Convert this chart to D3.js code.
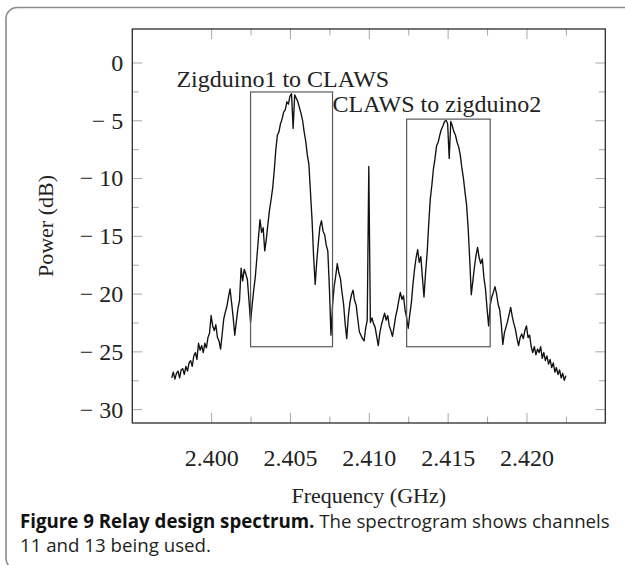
<!DOCTYPE html>
<html><head><meta charset="utf-8">
<script src="https://cdn.jsdelivr.net/npm/d3@7"></script>
<style>body{margin:0;background:#fff}svg{display:block}</style>
</head><body><svg id="chart" width="625" height="565"></svg>
<script>
// ---------------- data ----------------
const freqs = [
2.3975,2.3976,2.3977,2.3978,2.3979,2.3980,2.3981,2.3982,2.3983,2.3984,
2.3985,2.3986,2.3987,2.3988,2.3989,2.3990,2.3991,2.3992,2.3993,2.3994,
2.3995,2.3996,2.3997,2.3998,2.3999,2.4000,2.4001,2.4002,2.4003,2.4004,
2.4005,2.4006,2.4007,2.4008,2.4009,2.4010,2.4011,2.4012,2.4013,2.4014,
2.4015,2.4016,2.4017,2.4018,2.4019,2.4020,2.4021,2.4022,2.4023,2.4024,
2.4025,2.4026,2.4027,2.4028,2.4029,2.4030,2.4031,2.4032,2.4033,2.4034,
2.4035,2.4036,2.4037,2.4038,2.4039,2.4040,2.4041,2.4042,2.4043,2.4044,
2.4045,2.4046,2.4047,2.4048,2.4049,2.4050,2.4051,2.4052,2.4053,2.4054,
2.4055,2.4056,2.4057,2.4058,2.4059,2.4060,2.4061,2.4062,2.4063,2.4064,
2.4065,2.4066,2.4067,2.4068,2.4069,2.4070,2.4071,2.4072,2.4073,2.4074,
2.4075,2.4076,2.4077,2.4078,2.4079,2.4080,2.4081,2.4082,2.4083,2.4084,
2.4085,2.4086,2.4087,2.4088,2.4089,2.4090,2.4091,2.4092,2.4093,2.4094,
2.4095,2.4096,2.4097,2.4098,2.4099,2.4100,2.4101,2.4102,2.4103,2.4104,
2.4105,2.4106,2.4107,2.4108,2.4109,2.4110,2.4111,2.4112,2.4113,2.4114,
2.4115,2.4116,2.4117,2.4118,2.4119,2.4120,2.4121,2.4122,2.4123,2.4124,
2.4125,2.4126,2.4127,2.4128,2.4129,2.4130,2.4131,2.4132,2.4133,2.4134,
2.4135,2.4136,2.4137,2.4138,2.4139,2.4140,2.4141,2.4142,2.4143,2.4144,
2.4145,2.4146,2.4147,2.4148,2.4149,2.4150,2.4151,2.4152,2.4153,2.4154,
2.4155,2.4156,2.4157,2.4158,2.4159,2.4160,2.4161,2.4162,2.4163,2.4164,
2.4165,2.4166,2.4167,2.4168,2.4169,2.4170,2.4171,2.4172,2.4173,2.4174,
2.4175,2.4176,2.4177,2.4178,2.4179,2.4180,2.4181,2.4182,2.4183,2.4184,
2.4185,2.4186,2.4187,2.4188,2.4189,2.4190,2.4191,2.4192,2.4193,2.4194,
2.4195,2.4196,2.4197,2.4198,2.4199,2.4200,2.4201,2.4202,2.4203,2.4204,
2.4205,2.4206,2.4207,2.4208,2.4209,2.4210,2.4211,2.4212,2.4213,2.4214,
2.4215,2.4216,2.4217,2.4218,2.4219,2.4220,2.4221,2.4222,2.4223,2.4224,
2.4225];

const powerDb = [
-27.3,-26.8,-27.4,-26.9,-26.7,-27.3,-26.6,-26.5,-27.0,-26.3,
-26.7,-26.0,-25.8,-26.3,-25.4,-25.1,-25.7,-24.3,-24.9,-24.5,
-25.1,-24.3,-24.7,-23.8,-23.4,-21.9,-22.8,-23.2,-22.7,-23.8,
-24.1,-24.8,-23.5,-22.2,-21.6,-21.1,-20.3,-19.6,-20.8,-22.1,
-23.6,-22.4,-21.3,-20.6,-17.8,-18.9,-17.9,-18.3,-18.8,-20.6,
-22.5,-21.0,-19.7,-18.6,-16.9,-15.2,-13.6,-14.7,-14.3,-16.3,
-15.3,-14.0,-12.8,-11.9,-10.9,-9.4,-7.6,-6.3,-6.0,-5.3,
-4.9,-4.3,-4.1,-3.4,-3.6,-2.9,-2.7,-5.7,-2.8,-3.1,
-3.4,-3.9,-4.4,-5.0,-6.0,-6.8,-8.0,-8.8,-11.2,-13.6,
-16.8,-19.2,-17.2,-15.6,-14.2,-13.7,-14.6,-14.9,-15.8,-16.3,
-19.5,-23.6,-21.0,-19.4,-18.5,-17.4,-18.2,-18.7,-19.9,-20.9,
-22.6,-23.9,-22.0,-20.8,-20.1,-19.7,-20.6,-21.0,-22.2,-23.3,
-23.6,-23.9,-24.1,-23.0,-22.3,-9.0,-22.5,-22.1,-22.6,-22.9,
-23.7,-24.5,-23.4,-22.7,-22.2,-21.7,-22.3,-21.9,-22.8,-23.2,
-23.7,-22.9,-22.0,-21.4,-20.6,-19.9,-20.5,-20.2,-21.4,-22.1,
-23.0,-21.8,-20.8,-19.2,-17.9,-16.9,-16.2,-17.3,-16.8,-18.6,
-20.3,-18.2,-16.5,-14.0,-11.8,-10.6,-9.2,-8.3,-7.2,-6.9,
-6.3,-5.8,-5.5,-5.1,-5.0,-5.3,-8.3,-5.1,-5.5,-6.0,
-6.3,-6.9,-7.3,-8.0,-9.1,-10.0,-11.2,-12.3,-14.3,-17.0,
-20.1,-18.9,-17.7,-16.7,-16.0,-16.9,-17.4,-17.0,-18.6,-19.6,
-21.3,-22.8,-21.0,-20.3,-19.9,-19.4,-20.0,-20.9,-21.4,-22.6,
-24.4,-23.4,-22.9,-22.4,-21.8,-21.2,-22.0,-22.6,-23.1,-23.9,
-24.5,-23.8,-23.5,-23.9,-23.2,-22.8,-23.8,-23.6,-24.6,-25.1,
-24.6,-25.3,-24.8,-25.1,-24.6,-25.6,-25.1,-25.8,-25.4,-26.1,
-25.7,-26.4,-26.0,-26.8,-26.4,-27.0,-26.6,-27.3,-26.9,-27.5,-27.1];

const xTickValues = [2.400, 2.405, 2.410, 2.415, 2.420];
const xTickLabels = ["2.400", "2.405", "2.410", "2.415", "2.420"];
const xMinorTicks = [2.4025, 2.4075, 2.4125, 2.4175, 2.4225];
const yTickValues = [0, -5, -10, -15, -20, -25, -30];
const yTickLabels = ["0", "\u2212 5", "\u2212 10", "\u2212 15", "\u2212 20", "\u2212 25", "\u2212 30"];
const yMinorTicks = [-2.5, -7.5, -12.5, -17.5, -22.5, -27.5];

const boxLabels = ["Zigduino1 to CLAWS", "CLAWS to zigduino2"];
const boxFreqLo = [2.4025, 2.4124];
const boxFreqHi = [2.4077, 2.4177];
const boxPowLo = [-24.6, -24.6];
const boxPowHi = [-2.55, -4.9];
const labelFreq = [2.3978, 2.4077];
const labelPow = [-2.1, -4.3];

const xTitle = "Frequency (GHz)";
const yTitle = "Power (dB)";
const captionBold = "Figure 9 Relay design spectrum.";
const captionRest = " The spectrogram shows channels";
const captionLine2 = "11 and 13 being used.";

// ---------------- drawing ----------------
const svg = d3.select("#chart");
const plot = {left: 132.3, right: 605.3, top: 29, bottom: 423};
const serif = "'Liberation Serif', 'Times New Roman', serif";
const sans = "'Open Sans', 'Noto Sans', sans-serif";

// outer rounded frame (figure box, cropped at the right/bottom)
svg.append("rect")
  .attr("x", 6).attr("y", 7.5).attr("width", 660).attr("height", 562)
  .attr("rx", 11).attr("ry", 11)
  .attr("fill", "none").attr("stroke", "#8c8c8c").attr("stroke-width", 1.6);

const x = d3.scaleLinear().domain([2.395, 2.425]).range([plot.left, plot.right]);
const y = d3.scaleLinear().domain([-31.2, 2.9]).range([plot.bottom, plot.top]);

const tickColor = "#a8a8a8";
const majorLen = 10, minorLen = 6.5;
function tickAxis(axisGen, transform) {
  const g = svg.append("g").attr("transform", transform).call(axisGen);
  g.select(".domain").remove();
  g.selectAll(".tick line").attr("stroke", tickColor).attr("stroke-width", 1);
  g.selectAll("text").remove();
  return g;
}
tickAxis(d3.axisTop(x).tickValues(xTickValues).tickSize(majorLen), `translate(0,${plot.bottom})`);
tickAxis(d3.axisTop(x).tickValues(xMinorTicks).tickSize(minorLen), `translate(0,${plot.bottom})`);
tickAxis(d3.axisBottom(x).tickValues(xTickValues).tickSize(majorLen), `translate(0,${plot.top})`);
tickAxis(d3.axisBottom(x).tickValues(xMinorTicks).tickSize(minorLen), `translate(0,${plot.top})`);
tickAxis(d3.axisRight(y).tickValues(yTickValues).tickSize(majorLen), `translate(${plot.left},0)`);
tickAxis(d3.axisRight(y).tickValues(yMinorTicks).tickSize(minorLen), `translate(${plot.left},0)`);
tickAxis(d3.axisLeft(y).tickValues(yTickValues).tickSize(majorLen), `translate(${plot.right},0)`);
tickAxis(d3.axisLeft(y).tickValues(yMinorTicks).tickSize(minorLen), `translate(${plot.right},0)`);

// tick labels
const xLab = svg.append("g").attr("transform", `translate(0,${plot.bottom})`)
  .call(d3.axisBottom(x).tickValues(xTickValues).tickSize(0).tickPadding(0)
    .tickFormat((d, i) => xTickLabels[i]));
xLab.select(".domain").remove();
xLab.selectAll("text").attr("font-family", serif).attr("font-size", 24)
  .attr("fill", "#222").attr("dy", null).attr("y", 43);

const yLab = svg.append("g").attr("transform", `translate(${plot.left},0)`)
  .call(d3.axisLeft(y).tickValues(yTickValues).tickSize(0).tickPadding(0)
    .tickFormat((d, i) => yTickLabels[i]));
yLab.select(".domain").remove();
yLab.selectAll("text").attr("font-family", serif).attr("font-size", 24)
  .attr("fill", "#222").attr("x", -9).attr("dy", "0.33em");

// spectrum line
const pts = freqs.map((f, i) => [f, powerDb[i]]);
svg.append("path").datum(pts)
  .attr("fill", "none").attr("stroke", "#111").attr("stroke-width", 1.35)
  .attr("stroke-linejoin", "round")
  .attr("d", d3.line().x(d => x(d[0])).y(d => y(d[1])));

// annotation boxes and labels
boxLabels.forEach((lab, i) => {
  svg.append("rect")
    .attr("x", x(boxFreqLo[i])).attr("y", y(boxPowHi[i]))
    .attr("width", x(boxFreqHi[i]) - x(boxFreqLo[i]))
    .attr("height", y(boxPowLo[i]) - y(boxPowHi[i]))
    .attr("fill", "none").attr("stroke", "#5a5a5a").attr("stroke-width", 1.2);
  svg.append("text").attr("x", x(labelFreq[i])).attr("y", y(labelPow[i]))
    .attr("font-family", serif).attr("font-size", 24).attr("fill", "#222").text(lab);
});

// frame
svg.append("rect")
  .attr("x", plot.left).attr("y", plot.top)
  .attr("width", plot.right - plot.left).attr("height", plot.bottom - plot.top)
  .attr("fill", "none").attr("stroke", "#2a2a2a").attr("stroke-width", 1.3);

// axis titles
svg.append("text").attr("x", (plot.left + plot.right) / 2).attr("y", 503)
  .attr("text-anchor", "middle").attr("font-family", serif).attr("font-size", 22)
  .attr("fill", "#222").text(xTitle);
svg.append("text").attr("transform", `translate(53,${(plot.top + plot.bottom) / 2}) rotate(-90)`)
  .attr("text-anchor", "middle").attr("font-family", serif).attr("font-size", 22)
  .attr("fill", "#222").text(yTitle);

// caption
const cap = svg.append("text").attr("x", 20).attr("y", 528)
  .attr("font-family", sans).attr("font-size", 16).attr("fill", "#231f20");
cap.append("tspan").attr("font-weight", "bold").attr("fill", "#111").text(captionBold);
cap.append("tspan").text(captionRest);
const cap2 = svg.append("text").attr("x", 20).attr("y", 552)
  .attr("font-family", sans).attr("font-size", 16).attr("fill", "#231f20").text(captionLine2);
const targetW = 590;
const w0 = cap.node().getComputedTextLength();
const fs = 16 * targetW / w0;
cap.attr("font-size", fs);
cap2.attr("font-size", fs);
</script>
</body></html>
